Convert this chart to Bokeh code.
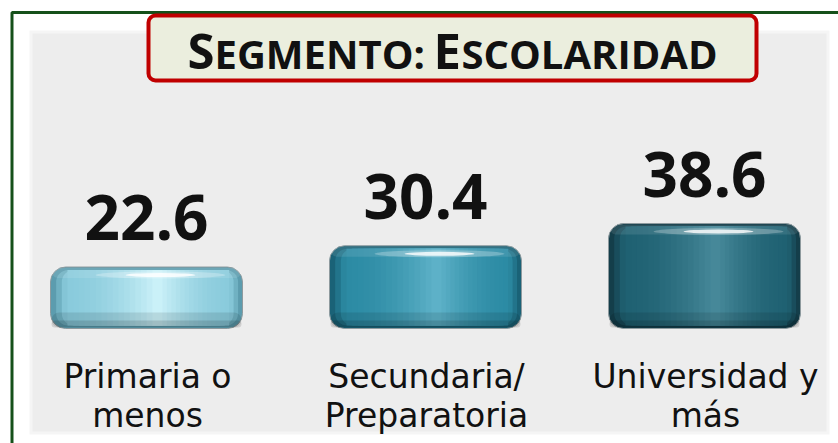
from bokeh.plotting import figure
from bokeh.models import Range1d, ColumnDataSource, Label
from bokeh.core.properties import value
from bokeh.embed import file_html
from bokeh.resources import INLINE

# ---------------- data ----------------
categories = ["Primaria o\nmenos", "Secundaria/\nPreparatoria", "Universidad y\nmás"]
values = [22.6, 30.4, 38.6]
value_labels = ["22.6", "30.4", "38.6"]
title_parts = [("S", True), ("EGMENTO:", False), ("E", True), ("SCOLARIDAD", False)]

# ---------------- styles ----------------
bar_edge = ["#5C9CAE", "#1A6277", "#143E4A"]
bar_mid = ["#8ACBDC", "#2C8BA4", "#1F6172"]
bar_light = ["#D2F5FB", "#63B6CC", "#4B8D9E"]

PX_PER_CAT = 279.0
PX_PER_UNIT = 2.72
X_OFF = 146.0   # window x of first category centre
Y_BASE = 328.0  # window y of value 0
BASE_FIX = 0.375  # empirical baseline correction (fraction of font size)


def sx(px):
    return (px - X_OFF) / PX_PER_CAT


def sy(py):
    return (Y_BASE - py) / PX_PER_UNIT


def dx(px):
    return px / PX_PER_CAT


def dy(px):
    return px / PX_PER_UNIT


def mix(c1, c2, t):
    t = max(0.0, min(1.0, t))
    a = [int(c1[i:i + 2], 16) for i in (1, 3, 5)]
    b = [int(c2[i:i + 2], 16) for i in (1, 3, 5)]
    return "#%02x%02x%02x" % tuple(round(a[i] + (b[i] - a[i]) * t) for i in range(3))


p = figure(width=838, height=443,
           x_range=Range1d(sx(0), sx(838)), y_range=Range1d(sy(443), sy(0)),
           x_axis_location=None, y_axis_location=None,
           output_backend="svg", toolbar_location=None, min_border=0)
p.grid.visible = False
p.outline_line_color = None
p.background_fill_color = "white"
p.border_fill_color = "white"

# outer green frame
p.quad(left=sx(11.5), right=sx(1000), top=sy(12), bottom=sy(700),
       fill_color="white", line_color="#15501A", line_width=3)
# soft panel edge + gray panel
p.quad(left=sx(29), right=sx(829), top=sy(30), bottom=sy(434),
       fill_color="#F5F5F5", line_color=None)
p.quad(left=sx(32), right=sx(826), top=sy(33), bottom=sy(431),
       fill_color="#EDEDED", line_color=None)

# title box
p.quad(left=sx(148), right=sx(756), top=sy(15), bottom=sy(80),
       fill_color="#EBEEDE", line_color="#C00000", line_width=4, border_radius=7)

title_x = [187, 214, 433, 461]
for (txt, big), tx in zip(title_parts, title_x):
    fs = 49 if big else 40
    p.add_layout(Label(x=sx(tx), y=sy(68 - BASE_FIX * fs), text=txt, text_align="left",
                       text_baseline="alphabetic",
                       text_font="Open Sans", text_font_style="bold",
                       text_font_size=f"{fs}px", text_color="#111111"))

# ---------------- bars ----------------
idx = list(range(len(values)))
W = dx(192)
src = ColumnDataSource(dict(x=idx, top=values, edge=bar_edge))
p.vbar(x="x", top="top", bottom=0, width=W, fill_color="edge",
       line_color="#8E9A9E", line_width=1, border_radius=15, source=src)

N = 18
for k in range(1, N + 1):
    f = 1.0 - k / (N + 1.0)
    cols = []
    for e, m, l in zip(bar_edge, bar_mid, bar_light):
        if f > 0.88:
            cols.append(mix(e, m, (1.0 - f) / 0.12))
        else:
            cols.append(mix(m, l, ((0.88 - f) / 0.88) ** 1.8))
    shift = 0.06 * 192 * (1.0 - f)
    p.vbar(x=[i + dx(shift) for i in idx], top=[v - dy(3) for v in values],
           bottom=dy(3), width=W * f, fill_color=cols, line_color=None,
           border_radius=12 if f > 0.85 else 0)

# bottom shading (rounded lower rim)
p.vbar(x=idx, top=dy(16), bottom=dy(1), width=W - dx(2), fill_color="black",
       fill_alpha=0.10, line_color=None, border_radius=14)
p.vbar(x=idx, top=dy(8), bottom=dy(1), width=W - dx(2), fill_color="black",
       fill_alpha=0.12, line_color=None, border_radius=12)
# top rim light
p.vbar(x=idx, top=[v - dy(1) for v in values], bottom=[v - dy(11) for v in values],
       width=W - dx(4), fill_color="white", fill_alpha=0.10, line_color=None,
       border_radius=12)
# specular highlight
p.ellipse(x=[i + dx(14) for i in idx], y=[v - dy(8) for v in values],
          width=dx(130), height=dy(7), fill_color="white", fill_alpha=0.25, line_color=None)
p.ellipse(x=[i + dx(14) for i in idx], y=[v - dy(8) for v in values],
          width=dx(70), height=dy(4), fill_color="white", fill_alpha=0.8, line_color=None)

# ---------------- labels ----------------
VFS = 62
p.text(x=idx, y=[v + dy(26 + BASE_FIX * VFS) for v in values], text=value_labels,
       text_align="center", text_baseline="alphabetic",
       text_font=value("Open Sans"), text_font_style="bold",
       text_font_size=f"{VFS}px", text_color="#111111")

LFS = 33
line1 = [c.split("\n")[0] for c in categories]
line2 = [c.split("\n")[1] for c in categories]
p.text(x=[i + dx(1) for i in idx], y=sy(388 - BASE_FIX * LFS), text=line1, text_align="center",
       text_baseline="alphabetic", text_font=value("DejaVu Sans"),
       text_font_size=f"{LFS}px", text_color="#111111")
p.text(x=[i + dx(1) for i in idx], y=sy(427 - BASE_FIX * LFS), text=line2, text_align="center",
       text_baseline="alphabetic", text_font=value("DejaVu Sans"),
       text_font_size=f"{LFS}px", text_color="#111111")

open("out.html", "w").write(file_html(p, INLINE))
